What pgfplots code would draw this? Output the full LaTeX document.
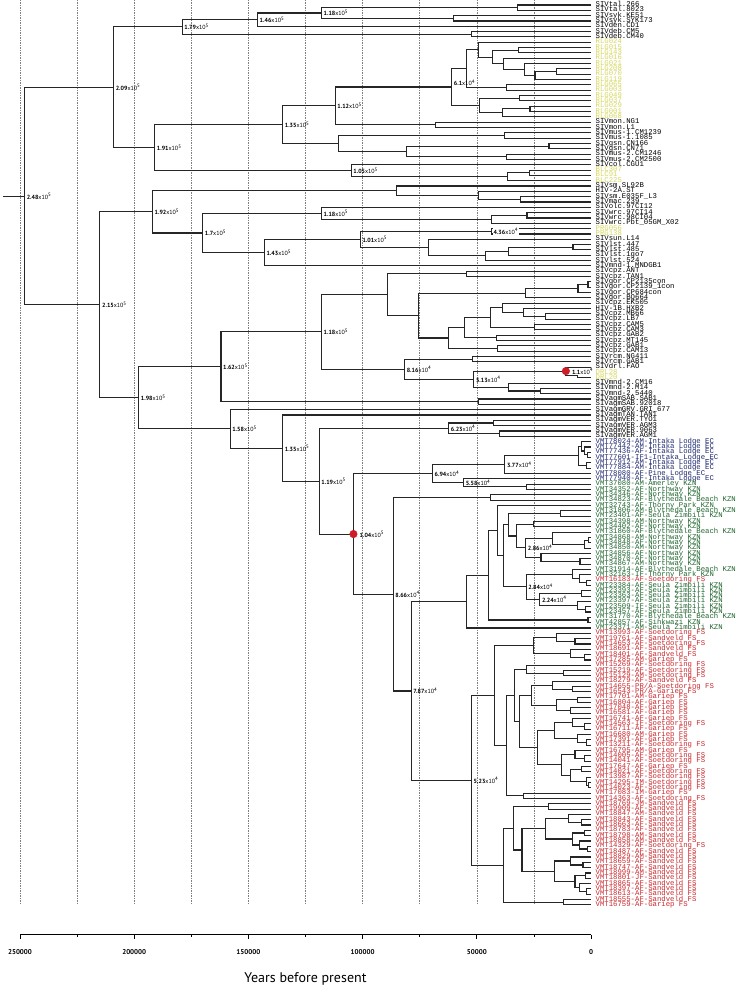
\documentclass[border=0pt]{standalone}
\usepackage{pgfplots}
\pgfplotsset{compat=1.18}
\usepackage{fontspec}
\setmainfont{PT Sans}
\newfontfamily\labmono{Liberation Mono}
\definecolor{labyellow}{RGB}{214,214,96}
\definecolor{labnavy}{RGB}{30,40,110}
\definecolor{labgreen}{RGB}{30,100,45}
\definecolor{labred}{RGB}{200,40,45}
\definecolor{dotred}{RGB}{205,30,40}
\newcommand{\tl}[2]{\textbf{#1}x10\textsuperscript{#2}}
\begin{document}
\begin{tikzpicture}
\useasboundingbox (0,0) rectangle (742pt,992pt);
\tikzset{tlab/.style={anchor=west, font=\fontsize{6}{7}\selectfont, inner sep=0.5pt, xshift=1.5pt}}
\begin{axis}[
  at={(20pt,57pt)}, anchor=south west,
  scale only axis, width=571pt, height=935pt,
  xmin=0, xmax=250000, ymin=-175.65, ymax=-0.061,
  x dir=reverse,
  axis x line*=bottom, axis y line=none, ytick=\empty,
  clip=false,
  xtick={0,50000,100000,150000,200000,250000},
  minor xtick={25000,75000,125000,175000,225000},
  scaled x ticks=false,
  xticklabel style={yshift=-7pt, font=\bfseries\fontsize{7}{8}\selectfont, /pgf/number format/.cd, fixed, precision=0, 1000 sep={}, assume math mode=true},
  tick align=outside,
  major tick length=4pt, minor tick length=2pt,
  tick style={black, line width=0.8pt},
  x axis line style={line width=1pt},
  unbounded coords=jump,
  every node near coord/.append style={anchor=west, inner sep=0pt, xshift=4.5pt, font=\fontsize{7.3}{8}\labmono, text height=4.1pt, text depth=0.9pt},
]
% grid lines
\addplot[gray, line width=0.5pt, dash pattern=on 1.5pt off 1pt] coordinates {
(25000,-0.061)(25000,-170)(nan,nan)(50000,-0.061)(50000,-170)(nan,nan)
(75000,-0.061)(75000,-170)(nan,nan)(100000,-0.061)(100000,-170)(nan,nan)
(125000,-0.061)(125000,-170)(nan,nan)(150000,-0.061)(150000,-170)(nan,nan)
(175000,-0.061)(175000,-170)(nan,nan)(200000,-0.061)(200000,-170)(nan,nan)
(225000,-0.061)(225000,-170)(nan,nan)(250000,-0.061)(250000,-170)};
% tree
\addplot[black!85, line width=1.1pt, mark=none] coordinates {
(0,-1)(32300,-1)(32300,-2)(0,-2)(nan,nan)
(0,-3)(60300,-3)(60300,-4)(0,-4)(nan,nan)
(32300,-1.5)(118000,-1.5)(118000,-3.5)(60300,-3.5)(nan,nan)
(118000,-2.5)(146000,-2.5)(146000,-5)(0,-5)(nan,nan)
(0,-6)(52400,-6)(52400,-7)(0,-7)(nan,nan)
(146000,-3.75)(179000,-3.75)(179000,-6.5)(52400,-6.5)(nan,nan)
(0,-9)(31900,-9)(31900,-10)(0,-10)(nan,nan)
(0,-13)(15300,-13)(15300,-14)(0,-14)(nan,nan)
(15300,-13.5)(24500,-13.5)(24500,-15)(0,-15)(nan,nan)
(0,-12)(29300,-12)(29300,-14.25)(24500,-14.25)(nan,nan)
(0,-11)(38500,-11)(38500,-13.125)(29300,-13.125)(nan,nan)
(31900,-9.5)(43300,-9.5)(43300,-12.0625)(38500,-12.0625)(nan,nan)
(0,-8)(49400,-8)(49400,-10.781)(43300,-10.781)(nan,nan)
(0,-16)(37100,-16)(37100,-17)(0,-17)(nan,nan)
(49400,-9.391)(54600,-9.391)(54600,-16.5)(37100,-16.5)(nan,nan)
(0,-18)(31500,-18)(31500,-19)(0,-19)(nan,nan)
(0,-20)(26700,-20)(26700,-21)(0,-21)(nan,nan)
(26700,-20.5)(38900,-20.5)(38900,-22)(0,-22)(nan,nan)
(31500,-18.5)(48900,-18.5)(48900,-21.25)(38900,-21.25)(nan,nan)
(54600,-12.945)(61000,-12.945)(61000,-19.875)(48900,-19.875)(nan,nan)
(0,-23)(68200,-23)(68200,-24)(0,-24)(nan,nan)
(61000,-16.41)(112000,-16.41)(112000,-23.5)(68200,-23.5)(nan,nan)
(0,-25)(38000,-25)(38000,-26)(0,-26)(nan,nan)
(0,-27)(18400,-27)(18400,-28)(0,-28)(nan,nan)
(0,-29)(37100,-29)(37100,-30)(0,-30)(nan,nan)
(18400,-27.5)(80900,-27.5)(80900,-29.5)(37100,-29.5)(nan,nan)
(38000,-25.5)(110600,-25.5)(110600,-28.5)(80900,-28.5)(nan,nan)
(112000,-19.955)(135000,-19.955)(135000,-27)(110600,-27)(nan,nan)
(0,-32)(27100,-32)(27100,-33)(0,-33)(nan,nan)
(27100,-32.5)(36700,-32.5)(36700,-34)(0,-34)(nan,nan)
(0,-31)(105000,-31)(105000,-33.25)(36700,-33.25)(nan,nan)
(135000,-23.478)(191000,-23.478)(191000,-32.125)(105000,-32.125)(nan,nan)
(179000,-5.125)(209000,-5.125)(209000,-27.801)(191000,-27.801)(nan,nan)
(0,-37)(31000,-37)(31000,-38)(0,-38)(nan,nan)
(0,-36)(49400,-36)(49400,-37.5)(31000,-37.5)(nan,nan)
(0,-35)(85200,-35)(85200,-36.75)(49400,-36.75)(nan,nan)
(0,-40)(28000,-40)(28000,-41)(0,-41)(nan,nan)
(28000,-40.5)(43700,-40.5)(43700,-42)(0,-42)(nan,nan)
(0,-39)(118000,-39)(118000,-41.25)(43700,-41.25)(nan,nan)
(0,-43)(43600,-43)(43600,-44)(0,-44)(nan,nan)
(0,-46)(7900,-46)(7900,-47)(0,-47)(nan,nan)
(7900,-46.5)(36300,-46.5)(36300,-48)(0,-48)(nan,nan)
(36300,-47.25)(46300,-47.25)(46300,-49)(0,-49)(nan,nan)
(0,-45)(71200,-45)(71200,-48.125)(46300,-48.125)(nan,nan)
(43600,-43.5)(101000,-43.5)(101000,-46.5625)(71200,-46.5625)(nan,nan)
(101000,-45.031)(143000,-45.031)(143000,-50)(0,-50)(nan,nan)
(118000,-40.125)(170000,-40.125)(170000,-47.516)(143000,-47.516)(nan,nan)
(85200,-35.875)(192000,-35.875)(192000,-43.82)(170000,-43.82)(nan,nan)
(0,-51)(54600,-51)(54600,-52)(0,-52)(nan,nan)
(0,-53)(1300,-53)(1300,-54)(0,-54)(nan,nan)
(1300,-53.5)(5700,-53.5)(5700,-55)(0,-55)(nan,nan)
(5700,-54.25)(28800,-54.25)(28800,-56)(0,-56)(nan,nan)
(0,-59)(20100,-59)(20100,-60)(0,-60)(nan,nan)
(0,-58)(29700,-58)(29700,-59.5)(20100,-59.5)(nan,nan)
(0,-57)(38900,-57)(38900,-58.75)(29700,-58.75)(nan,nan)
(0,-61)(24900,-61)(24900,-62)(0,-62)(nan,nan)
(38900,-57.875)(44100,-57.875)(44100,-61.5)(24900,-61.5)(nan,nan)
(0,-63)(41500,-63)(41500,-64)(0,-64)(nan,nan)
(44100,-59.6875)(55500,-59.6875)(55500,-63.5)(41500,-63.5)(nan,nan)
(0,-65)(41100,-65)(41100,-66)(0,-66)(nan,nan)
(55500,-61.594)(62500,-61.594)(62500,-65.5)(41100,-65.5)(nan,nan)
(28800,-55.125)(75600,-55.125)(75600,-63.547)(62500,-63.547)(nan,nan)
(54600,-51.5)(89200,-51.5)(89200,-59.336)(75600,-59.336)(nan,nan)
(0,-67)(52000,-67)(52000,-68)(0,-68)(nan,nan)
(0,-70)(6100,-70)(6100,-71)(0,-71)(nan,nan)
(0,-69)(11000,-69)(11000,-70.5)(6100,-70.5)(nan,nan)
(0,-73)(22300,-73)(22300,-74)(0,-74)(nan,nan)
(0,-72)(36300,-72)(36300,-73.5)(22300,-73.5)(nan,nan)
(11000,-69.75)(51300,-69.75)(51300,-72.75)(36300,-72.75)(nan,nan)
(52000,-67.5)(81600,-67.5)(81600,-71.25)(51300,-71.25)(nan,nan)
(89200,-55.418)(118000,-55.418)(118000,-69.375)(81600,-69.375)(nan,nan)
(0,-75)(49400,-75)(49400,-76)(0,-76)(nan,nan)
(118000,-62.397)(162000,-62.397)(162000,-75.5)(49400,-75.5)(nan,nan)
(0,-79)(42800,-79)(42800,-80)(0,-80)(nan,nan)
(0,-81)(40200,-81)(40200,-82)(0,-82)(nan,nan)
(42800,-79.5)(62300,-79.5)(62300,-81.5)(40200,-81.5)(nan,nan)
(0,-85)(1500,-85)(1500,-86)(0,-86)(nan,nan)
(0,-84)(2800,-84)(2800,-85.5)(1500,-85.5)(nan,nan)
(0,-83)(4000,-83)(4000,-84.75)(2800,-84.75)(nan,nan)
(0,-87)(2000,-87)(2000,-88)(0,-88)(nan,nan)
(4000,-83.875)(5500,-83.875)(5500,-87.5)(2000,-87.5)(nan,nan)
(5500,-85.6875)(37700,-85.6875)(37700,-89)(0,-89)(nan,nan)
(0,-91)(28400,-91)(28400,-92)(0,-92)(nan,nan)
(0,-90)(55800,-90)(55800,-91.5)(28400,-91.5)(nan,nan)
(37700,-87.344)(69400,-87.344)(69400,-90.75)(55800,-90.75)(nan,nan)
(0,-93)(44100,-93)(44100,-94)(0,-94)(nan,nan)
(0,-96)(13500,-96)(13500,-97)(0,-97)(nan,nan)
(0,-98)(25300,-98)(25300,-99)(0,-99)(nan,nan)
(0,-101)(1000,-101)(1000,-102)(0,-102)(nan,nan)
(1000,-101.5)(3000,-101.5)(3000,-103)(0,-103)(nan,nan)
(0,-100)(17000,-100)(17000,-102.25)(3000,-102.25)(nan,nan)
(0,-105)(4800,-105)(4800,-106)(0,-106)(nan,nan)
(0,-104)(21900,-104)(21900,-105.5)(4800,-105.5)(nan,nan)
(17000,-101.125)(28600,-101.125)(28600,-104.75)(21900,-104.75)(nan,nan)
(25300,-98.5)(32700,-98.5)(32700,-102.9375)(28600,-102.9375)(nan,nan)
(13500,-96.5)(36300,-96.5)(36300,-100.719)(32700,-100.719)(nan,nan)
(0,-109)(2000,-109)(2000,-110)(0,-110)(nan,nan)
(0,-108)(5000,-108)(5000,-109.5)(2000,-109.5)(nan,nan)
(0,-107)(8000,-107)(8000,-108.75)(5000,-108.75)(nan,nan)
(0,-111)(4000,-111)(4000,-112)(0,-112)(nan,nan)
(0,-114)(2500,-114)(2500,-115)(0,-115)(nan,nan)
(0,-113)(6000,-113)(6000,-114.5)(2500,-114.5)(nan,nan)
(4000,-111.5)(22400,-111.5)(22400,-113.75)(6000,-113.75)(nan,nan)
(8000,-107.875)(28400,-107.875)(28400,-112.625)(22400,-112.625)(nan,nan)
(36300,-98.609)(38500,-98.609)(38500,-110.25)(28400,-110.25)(nan,nan)
(0,-95)(41100,-95)(41100,-104.43)(38500,-104.43)(nan,nan)
(0,-116)(1300,-116)(1300,-117)(0,-117)(nan,nan)
(41100,-99.715)(45000,-99.715)(45000,-116.5)(1300,-116.5)(nan,nan)
(45000,-108.107)(54600,-108.107)(54600,-118)(0,-118)(nan,nan)
(0,-120)(7000,-120)(7000,-121)(0,-121)(nan,nan)
(0,-119)(15300,-119)(15300,-120.5)(7000,-120.5)(nan,nan)
(0,-123)(3000,-123)(3000,-124)(0,-124)(nan,nan)
(0,-122)(9000,-122)(9000,-123.5)(3000,-123.5)(nan,nan)
(15300,-119.75)(25300,-119.75)(25300,-122.75)(9000,-122.75)(nan,nan)
(0,-126)(12000,-126)(12000,-127)(0,-127)(nan,nan)
(0,-125)(28400,-125)(28400,-126.5)(12000,-126.5)(nan,nan)
(0,-129)(8000,-129)(8000,-130)(0,-130)(nan,nan)
(0,-128)(17000,-128)(17000,-129.5)(8000,-129.5)(nan,nan)
(0,-131)(6000,-131)(6000,-132)(0,-132)(nan,nan)
(0,-133)(9000,-133)(9000,-134)(0,-134)(nan,nan)
(6000,-131.5)(15000,-131.5)(15000,-133.5)(9000,-133.5)(nan,nan)
(17000,-128.75)(26200,-128.75)(26200,-132.5)(15000,-132.5)(nan,nan)
(0,-136)(3000,-136)(3000,-137)(0,-137)(nan,nan)
(0,-135)(8000,-135)(8000,-136.5)(3000,-136.5)(nan,nan)
(0,-139)(2000,-139)(2000,-140)(0,-140)(nan,nan)
(0,-138)(6000,-138)(6000,-139.5)(2000,-139.5)(nan,nan)
(8000,-135.75)(16000,-135.75)(16000,-138.75)(6000,-138.75)(nan,nan)
(0,-142)(3000,-142)(3000,-143)(0,-143)(nan,nan)
(0,-141)(7000,-141)(7000,-142.5)(3000,-142.5)(nan,nan)
(0,-144)(4000,-144)(4000,-145)(0,-145)(nan,nan)
(0,-147)(1000,-147)(1000,-148)(0,-148)(nan,nan)
(0,-146)(2000,-146)(2000,-147.5)(1000,-147.5)(nan,nan)
(4000,-144.5)(9000,-144.5)(9000,-146.75)(2000,-146.75)(nan,nan)
(7000,-141.75)(13000,-141.75)(13000,-145.625)(9000,-145.625)(nan,nan)
(16000,-137.25)(23600,-137.25)(23600,-143.6875)(13000,-143.6875)(nan,nan)
(26200,-130.625)(31500,-130.625)(31500,-140.469)(23600,-140.469)(nan,nan)
(28400,-125.75)(33600,-125.75)(33600,-135.547)(31500,-135.547)(nan,nan)
(0,-149)(29700,-149)(29700,-150)(0,-150)(nan,nan)
(33600,-130.648)(37100,-130.648)(37100,-149.5)(29700,-149.5)(nan,nan)
(25300,-121.25)(42400,-121.25)(42400,-140.074)(37100,-140.074)(nan,nan)
(0,-151)(18800,-151)(18800,-152)(0,-152)(nan,nan)
(0,-154)(4000,-154)(4000,-155)(0,-155)(nan,nan)
(0,-153)(10000,-153)(10000,-154.5)(4000,-154.5)(nan,nan)
(0,-156)(3000,-156)(3000,-157)(0,-157)(nan,nan)
(0,-159)(1500,-159)(1500,-160)(0,-160)(nan,nan)
(0,-158)(5000,-158)(5000,-159.5)(1500,-159.5)(nan,nan)
(3000,-156.5)(8000,-156.5)(8000,-158.75)(5000,-158.75)(nan,nan)
(10000,-153.75)(20000,-153.75)(20000,-157.625)(8000,-157.625)(nan,nan)
(0,-162)(3500,-162)(3500,-163)(0,-163)(nan,nan)
(0,-161)(9000,-161)(9000,-162.5)(3500,-162.5)(nan,nan)
(0,-164)(2500,-164)(2500,-165)(0,-165)(nan,nan)
(0,-167)(2000,-167)(2000,-168)(0,-168)(nan,nan)
(0,-166)(5000,-166)(5000,-167.5)(2000,-167.5)(nan,nan)
(2500,-164.5)(7000,-164.5)(7000,-166.75)(5000,-166.75)(nan,nan)
(9000,-161.75)(16000,-161.75)(16000,-165.625)(7000,-165.625)(nan,nan)
(20000,-155.6875)(30200,-155.6875)(30200,-163.6875)(16000,-163.6875)(nan,nan)
(18800,-151.5)(34100,-151.5)(34100,-159.6875)(30200,-159.6875)(nan,nan)
(0,-169)(12200,-169)(12200,-170)(0,-170)(nan,nan)
(34100,-155.594)(38500,-155.594)(38500,-169.5)(12200,-169.5)(nan,nan)
(42400,-130.662)(52300,-130.662)(52300,-162.547)(38500,-162.547)(nan,nan)
(54600,-113.054)(78700,-113.054)(78700,-146.605)(52300,-146.605)(nan,nan)
(44100,-93.5)(86600,-93.5)(86600,-129.829)(78700,-129.829)(nan,nan)
(69400,-89.047)(104000,-89.047)(104000,-111.665)(86600,-111.665)(nan,nan)
(62300,-80.5)(119000,-80.5)(119000,-100.356)(104000,-100.356)(nan,nan)
(0,-78)(135000,-78)(135000,-90.428)(119000,-90.428)(nan,nan)
(0,-77)(158000,-77)(158000,-84.214)(135000,-84.214)(nan,nan)
(162000,-68.948)(198000,-68.948)(198000,-80.607)(158000,-80.607)(nan,nan)
(192000,-39.848)(215000,-39.848)(215000,-74.778)(198000,-74.778)(nan,nan)
(209000,-16.463)(248000,-16.463)(248000,-57.313)(215000,-57.313)(nan,nan)
(248000,-36.888)(257400,-36.888)};
% calibration dots
\addplot[only marks, mark=*, mark size=3.8pt, color=dotred] coordinates {(104000,-100.356)(11000,-69.75)};
% leaf labels
\addplot[draw=none, mark=none, nodes near coords, point meta=explicit symbolic, every node near coord/.append style={text=black}] coordinates {
(0,-1)[SIVtal.266](0,-2)[SIVtal.8023](0,-3)[SIVsyk.KE51](0,-4)[SIVsyk.SYK173](0,-5)[SIVden.CD1](0,-6)[SIVdeb.CM5](0,-7)[SIVdeb.CM40]
(0,-23)[SIVmon.NG1](0,-24)[SIVmon.L1](0,-25)[SIVmus-1.CM1239](0,-26)[SIVmus-1.1085](0,-27)[SIVgsn.CN166](0,-28)[SIVgsn.CN71](0,-29)[SIVmus-2.CM1246](0,-30)[SIVmus-2.CM2500](0,-31)[SIVcol.CGU1]
(0,-35)[SIVsm.SL92B](0,-36)[HIV-2A.ST](0,-37)[SIVsm.E035F\_L3](0,-38)[SIVmac.239](0,-39)[SIVolc.97CI12](0,-40)[SIVwrc.97CI14](0,-41)[SIVwrc.98CI04](0,-42)[SIVwrc.Pbt\_05GM\_X02]
(0,-45)[SIVsun.L14](0,-46)[SIVlst.447](0,-47)[SIVlst.485](0,-48)[SIVlst.1go7](0,-49)[SIVlst.524](0,-50)[SIVmnd-1.MNDGB1]
(0,-51)[SIVcpz.ANT](0,-52)[SIVcpz.TAN1](0,-53)[SIVgor.CP2135con](0,-54)[SIVgor.CP2139\_1con](0,-55)[SIVgor.CP684con](0,-56)[SIVgor.BQ664](0,-57)[SIVcpz.EK505](0,-58)[HIV-1B.HXB2]
(0,-59)[SIVcpz.MB66](0,-60)[SIVcpz.LB7](0,-61)[SIVcpz.CAM5](0,-62)[SIVcpz.CAM3](0,-63)[SIVcpz.GAB2](0,-64)[SIVcpz.MT145](0,-65)[SIVcpz.GAB1](0,-66)[SIVcpz.CAM13]
(0,-67)[SIVrcm.NG411](0,-68)[SIVrcm.GAB1](0,-69)[SIVdrl.FAO](0,-72)[SIVmnd-2.CM16](0,-73)[SIVmnd-2.M14](0,-74)[SIVmnd-2.5440]
(0,-75)[SIVagmSAB.SAB1](0,-76)[SIVagmSAB.92018](0,-77)[SIVagmGRV.GRI\_677](0,-78)[SIVagmTAN.TAN1](0,-79)[SIVagmVER.TYO1](0,-80)[SIVagmVER.AGM3](0,-81)[SIVagmVER.9063](0,-82)[SIVagmVER.AGM1]};
\addplot[draw=none, mark=none, nodes near coords, point meta=explicit symbolic, every node near coord/.append style={text=labyellow}] coordinates {
(0,-8)[RLG024](0,-9)[RLG015](0,-10)[RLG143](0,-11)[RLG016](0,-12)[RLG021](0,-13)[RLG208](0,-14)[RLG070](0,-15)[RLG119](0,-16)[RLG065](0,-17)[RLG003](0,-18)[RLG049](0,-19)[RLG037](0,-20)[RLG029](0,-21)[RLG001](0,-22)[RLG068]
(0,-32)[BLC307](0,-33)[BLC91](0,-34)[BLC225](0,-43)[PRG056](0,-44)[PRG138](0,-70)[DRL28](0,-71)[DRL20]};
\addplot[draw=none, mark=none, nodes near coords, point meta=explicit symbolic, every node near coord/.append style={text=labnavy}] coordinates {
(0,-83)[VMT78024-AM-Intaka Lodge EC](0,-84)[VMT77442-AM-Intaka Lodge EC](0,-85)[VMT77436-AF-Intaka Lodge EC](0,-86)[VMT77601-IF1-Intaka\_Lodge\_EC](0,-87)[VMT77912-AM-Intaka Lodge EC](0,-88)[VMT77884-AM-Intaka Lodge EC](0,-89)[VMT78080-AF-Pine Lodge EC](0,-90)[VMT77940-AF-Intaka Lodge EC]};
\addplot[draw=none, mark=none, nodes near coords, point meta=explicit symbolic, every node near coord/.append style={text=labgreen}] coordinates {
(0,-91)[VMT37080-AM-Amerley KZN](0,-92)[VMT34352-AF-Northway KZN](0,-93)[VMT34346-AF-Northway KZN](0,-94)[VMT34823-AF-Blythedale Beach KZN](0,-95)[VMT32743-AF-Thorny Park KZN](0,-96)[VMT31806-AM-Blythedale Beach KZN](0,-97)[VMT23401-AF-Seula Zimbili KZN](0,-98)[VMT34398-AM-Northway KZN](0,-99)[VMT34402-AF-Northway KZN](0,-100)[VMT31860-AF-Blythedale Beach KZN]
(0,-101)[VMT34868-AM-Northway KZN](0,-102)[VMT34848-AF-Northway KZN](0,-103)[VMT34850-AM-Northway KZN](0,-104)[VMT34856-AF-Northway KZN](0,-105)[VMT34870-AF-Northway KZN](0,-106)[VMT34867-AM-Northway KZN](0,-107)[VMT31914-AF-Blythedale Beach KZN](0,-108)[VMT32163-IF-Thorny Park KZN]
(0,-110)[VMT23384-AF-Seula Zimbili KZN](0,-111)[VMT23393-AF-Seula Zimbili KZN](0,-112)[VMT23363-AF-Seula Zimbili KZN](0,-113)[VMT23397-AF-Seula Zimbili KZN](0,-114)[VMT23509-IF-Seula Zimbili KZN](0,-115)[VMT23457-AF-Seula Zimbili KZN](0,-116)[VMT31770-AF-Blythedale Beach KZN](0,-117)[VMT42857-AF-Sinkwazi KZN](0,-118)[VMT23371-AM-Seula Zimbili KZN]};
\addplot[draw=none, mark=none, nodes near coords, point meta=explicit symbolic, every node near coord/.append style={text=labred}] coordinates {
(0,-109)[VMT16183-AF-Soetdoring FS]
(0,-119)[VMT13993-AF-Soetdoring FS](0,-120)[VMT19761-AF-Sandveld FS](0,-121)[VMT14653-AF-Soetdoring FS](0,-122)[VMT18691-AF-Sandveld FS](0,-123)[VMT18401-AF-Sandveld FS](0,-124)[VMT17285-AM-Gariep FS](0,-125)[VMT15269-AF-Soetdoring FS](0,-126)[VMT15219-AF-Soetdoring FS](0,-127)[VMT15129-AM-Soetdoring FS](0,-128)[VMT18279-AF-Sandveld FS]
(0,-129)[VMT14655-PR/A-Soetdoring FS](0,-130)[VMT16543-PR/A-Gariep FS](0,-131)[VMT17701-AM-Gariep FS](0,-132)[VMT16804-AF-Gariep FS](0,-133)[VMT17048-AF-Gariep FS](0,-134)[VMT16581-AF-Gariep FS](0,-135)[VMT16741-AF-Gariep FS](0,-136)[VMT14563-IF-Soetdoring FS](0,-137)[VMT16711-AF-Gariep FS](0,-138)[VMT16680-AM-Gariep FS]
(0,-139)[VMT17391-AF-Gariep FS](0,-140)[VMT13211-AF-Soetdoring FS](0,-141)[VMT16795-AM-Gariep FS](0,-142)[VMT14005-AF-Soetdoring FS](0,-143)[VMT14041-AF-Soetdoring FS](0,-144)[VMT17647-AF-Gariep FS](0,-145)[VMT14021-AF-Soetdoring FS](0,-146)[VMT13987-AF-Soetdoring FS](0,-147)[VMT14295-IM-Soetdoring FS](0,-148)[VMT14023-AF-Soetdoring FS]
(0,-149)[VMT17083-IM-Gariep FS](0,-150)[VMT14363-AF-Soetdoring FS](0,-151)[VMT18769-JM-Sandveld FS](0,-152)[VMT19909-AF-Sandveld FS](0,-153)[VMT18847-AM-Sandveld FS](0,-154)[VMT18843-AF-Sandveld FS](0,-155)[VMT18663-AF-Sandveld FS](0,-156)[VMT18783-AF-Sandveld FS](0,-157)[VMT18798-AM-Sandveld FS](0,-158)[VMT18858-AM-Sandveld FS]
(0,-159)[VMT14329-AF-Soetdoring FS](0,-160)[VMT18487-AF-Sandveld FS](0,-161)[VMT18829-AM-Sandveld FS](0,-162)[VMT18659-AF-Sandveld FS](0,-163)[VMT18747-AF-Sandveld FS](0,-164)[VMT18999-AM-Sandveld FS](0,-165)[VMT18801-JF-Sandveld FS](0,-166)[VMT18865-AF-Sandveld FS](0,-167)[VMT18397-AF-Sandveld FS](0,-168)[VMT18613-AF-Sandveld FS]
(0,-169)[VMT18555-AF-Sandveld FS](0,-170)[VMT16759-AF-Gariep FS]};
% node age labels
\node[tlab] at (axis cs:248000,-36.888) {\tl{2.48}{5}};
\node[tlab] at (axis cs:209000,-16.463) {\tl{2.09}{5}};
\node[tlab] at (axis cs:179000,-5.125) {\tl{1.79}{5}};
\node[tlab] at (axis cs:146000,-3.75) {\tl{1.46}{5}};
\node[tlab] at (axis cs:118000,-2.5) {\tl{1.18}{5}};
\node[tlab] at (axis cs:191000,-27.801) {\tl{1.91}{5}};
\node[tlab] at (axis cs:135000,-23.478) {\tl{1.35}{5}};
\node[tlab] at (axis cs:112000,-19.955) {\tl{1.12}{5}};
\node[tlab] at (axis cs:61000,-15.6) {\tl{6.1}{4}};
\node[tlab] at (axis cs:105000,-32.125) {\tl{1.05}{5}};
\node[tlab] at (axis cs:215000,-57.313) {\tl{2.15}{5}};
\node[tlab] at (axis cs:192000,-39.848) {\tl{1.92}{5}};
\node[tlab] at (axis cs:170000,-43.82) {\tl{1.7}{5}};
\node[tlab] at (axis cs:118000,-40.125) {\tl{1.18}{5}};
\node[tlab] at (axis cs:143000,-47.516) {\tl{1.43}{5}};
\node[tlab] at (axis cs:101000,-45.031) {\tl{1.01}{5}};
\node[tlab, fill=white] at (axis cs:43600,-43.5) {\tl{4.36}{4}};
\node[tlab] at (axis cs:198000,-74.778) {\tl{1.98}{5}};
\node[tlab] at (axis cs:162000,-68.948) {\tl{1.62}{5}};
\node[tlab] at (axis cs:118000,-62.397) {\tl{1.18}{5}};
\node[tlab] at (axis cs:81600,-69.375) {\tl{8.16}{4}};
\node[tlab] at (axis cs:51300,-71.25) {\tl{5.13}{4}};
\node[tlab, fill=white, xshift=4pt] at (axis cs:11000,-69.75) {\tl{1.1}{4}};
\node[tlab] at (axis cs:158000,-80.607) {\tl{1.58}{5}};
\node[tlab] at (axis cs:135000,-84.214) {\tl{1.35}{5}};
\node[tlab] at (axis cs:62300,-80.5) {\tl{6.23}{4}};
\node[tlab] at (axis cs:119000,-90.428) {\tl{1.19}{5}};
\node[tlab] at (axis cs:69400,-89.047) {\tl{6.94}{4}};
\node[tlab] at (axis cs:37700,-87.344) {\tl{3.77}{4}};
\node[tlab] at (axis cs:55800,-90.75) {\tl{5.58}{4}};
\node[tlab, xshift=4pt] at (axis cs:104000,-100.356) {\tl{1.04}{5}};
\node[tlab] at (axis cs:86600,-111.665) {\tl{8.66}{4}};
\node[tlab] at (axis cs:78700,-129.829) {\tl{7.87}{4}};
\node[tlab] at (axis cs:52300,-146.605) {\tl{5.23}{4}};
\node[tlab] at (axis cs:28600,-102.9375) {\tl{2.86}{4}};
\node[tlab] at (axis cs:28400,-110.25) {\tl{2.84}{4}};
\node[tlab] at (axis cs:22400,-112.625) {\tl{2.24}{4}};
\end{axis}
\node[font=\fontsize{14}{16}\selectfont] at (305.5pt,13pt) {Years before present};
\end{tikzpicture}
\end{document}
